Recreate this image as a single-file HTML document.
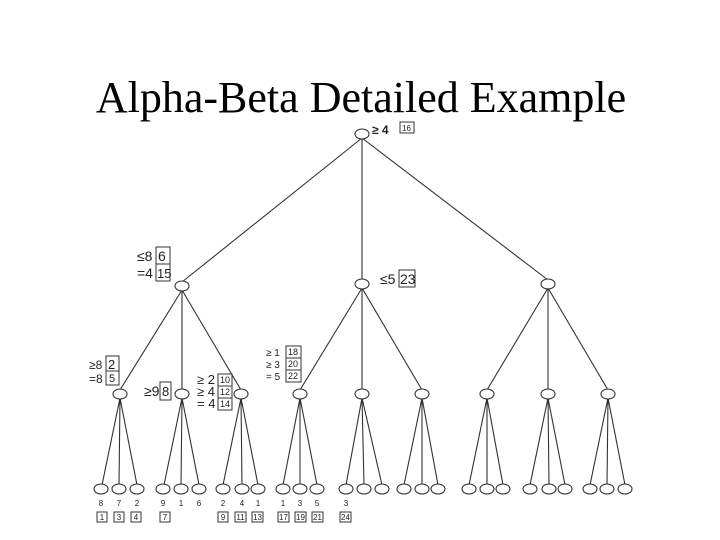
<!DOCTYPE html>
<html><head><meta charset="utf-8"><style>
body{margin:0;background:#fff;width:720px;height:540px;overflow:hidden}
svg{display:block}
.t{font-family:"Liberation Sans",sans-serif;fill:#222}
</style></head><body>
<svg width="720" height="540" viewBox="0 0 720 540">
<text x="361" y="112" text-anchor="middle" font-family="Liberation Serif,serif" font-size="44" fill="#000">Alpha-Beta Detailed Example</text>
<g stroke="#333" stroke-width="1.1" fill="none">
<line x1="362" y1="138" x2="182" y2="282"/><line x1="362" y1="138" x2="362" y2="280"/><line x1="362" y1="138" x2="548" y2="280"/>
<line x1="182" y1="290" x2="120" y2="390"/><line x1="182" y1="290" x2="182" y2="390"/><line x1="182" y1="290" x2="241" y2="390"/>
<line x1="362" y1="288" x2="300" y2="390"/><line x1="362" y1="288" x2="362" y2="390"/><line x1="362" y1="288" x2="422" y2="390"/>
<line x1="548" y1="288" x2="487" y2="390"/><line x1="548" y1="288" x2="548" y2="390"/><line x1="548" y1="288" x2="608" y2="390"/>
<path d="M120 398L102 485M120 398L119 485M120 398L137 485
M182 398L164 485M182 398L181 485M182 398L199 485
M241 398L223 485M241 398L242 485M241 398L258 485
M300 398L283 485M300 398L300 485M300 398L317 485
M362 398L346 485M362 398L364 485M362 398L382 485
M422 398L404 485M422 398L422 485M422 398L438 485
M487 398L469 485M487 398L487 485M487 398L503 485
M548 398L530 485M548 398L549 485M548 398L565 485
M608 398L590 485M608 398L607 485M608 398L625 485"/>
</g>
<g stroke="#333" stroke-width="1.1" fill="#fff">
<ellipse cx="362" cy="134" rx="7" ry="5"/>
<ellipse cx="182" cy="286" rx="7" ry="5"/><ellipse cx="362" cy="284" rx="7" ry="5"/><ellipse cx="548" cy="284" rx="7" ry="5"/>
<ellipse cx="120" cy="394" rx="7" ry="5"/><ellipse cx="182" cy="394" rx="7" ry="5"/><ellipse cx="241" cy="394" rx="7" ry="5"/>
<ellipse cx="300" cy="394" rx="7" ry="5"/><ellipse cx="362" cy="394" rx="7" ry="5"/><ellipse cx="422" cy="394" rx="7" ry="5"/>
<ellipse cx="487" cy="394" rx="7" ry="5"/><ellipse cx="548" cy="394" rx="7" ry="5"/><ellipse cx="608" cy="394" rx="7" ry="5"/>
<ellipse cx="101" cy="489" rx="7" ry="5"/><ellipse cx="119" cy="489" rx="7" ry="5"/><ellipse cx="137" cy="489" rx="7" ry="5"/>
<ellipse cx="163" cy="489" rx="7" ry="5"/><ellipse cx="181" cy="489" rx="7" ry="5"/><ellipse cx="199" cy="489" rx="7" ry="5"/>
<ellipse cx="223" cy="489" rx="7" ry="5"/><ellipse cx="242" cy="489" rx="7" ry="5"/><ellipse cx="258" cy="489" rx="7" ry="5"/>
<ellipse cx="283" cy="489" rx="7" ry="5"/><ellipse cx="300" cy="489" rx="7" ry="5"/><ellipse cx="317" cy="489" rx="7" ry="5"/>
<ellipse cx="346" cy="489" rx="7" ry="5"/><ellipse cx="364" cy="489" rx="7" ry="5"/><ellipse cx="382" cy="489" rx="7" ry="5"/>
<ellipse cx="404" cy="489" rx="7" ry="5"/><ellipse cx="422" cy="489" rx="7" ry="5"/><ellipse cx="438" cy="489" rx="7" ry="5"/>
<ellipse cx="469" cy="489" rx="7" ry="5"/><ellipse cx="487" cy="489" rx="7" ry="5"/><ellipse cx="503" cy="489" rx="7" ry="5"/>
<ellipse cx="530" cy="489" rx="7" ry="5"/><ellipse cx="549" cy="489" rx="7" ry="5"/><ellipse cx="565" cy="489" rx="7" ry="5"/>
<ellipse cx="590" cy="489" rx="7" ry="5"/><ellipse cx="607" cy="489" rx="7" ry="5"/><ellipse cx="625" cy="489" rx="7" ry="5"/>
</g>
<g stroke="#333" stroke-width="1" fill="none">
<rect x="400" y="122" width="14" height="11"/>
<rect x="156" y="247" width="14" height="17"/><rect x="156" y="264" width="14" height="17"/>
<rect x="399" y="270" width="16" height="17"/>
<rect x="106" y="356" width="13" height="15"/><rect x="106" y="371" width="13" height="14"/>
<rect x="160" y="382" width="11" height="18"/>
<rect x="218" y="374" width="14" height="12"/><rect x="218" y="386" width="14" height="12"/><rect x="218" y="398" width="14" height="12"/>
<rect x="286" y="346" width="15" height="12"/><rect x="286" y="358" width="15" height="12"/><rect x="286" y="370" width="15" height="12"/>
<rect x="97" y="512" width="10" height="10"/><rect x="114" y="512" width="10" height="10"/><rect x="131" y="512" width="10" height="10"/>
<rect x="160" y="512" width="10" height="10"/>
<rect x="218" y="512" width="10" height="10"/><rect x="235" y="512" width="11" height="10"/><rect x="252" y="512" width="11" height="10"/>
<rect x="278" y="512" width="11" height="10"/><rect x="295" y="512" width="11" height="10"/><rect x="312" y="512" width="11" height="10"/>
<rect x="340" y="512" width="11" height="10"/>
</g>
<g class="t">
<text x="372" y="134" font-size="12" font-weight="bold">≥ 4</text>
<text x="402" y="131" font-size="8">16</text>
<text x="137" y="261" font-size="14">≤8</text><text x="158" y="261" font-size="14">6</text>
<text x="137" y="278" font-size="14">=4</text><text x="157" y="278" font-size="13">15</text>
<text x="380" y="284" font-size="14">≤5</text><text x="400" y="284" font-size="14">23</text>
<text x="89" y="369" font-size="12">≥8</text><text x="108" y="369" font-size="13">2</text>
<text x="89" y="383" font-size="12">=8</text><text x="109" y="382" font-size="11">5</text>
<text x="144" y="396" font-size="14">≥9</text><text x="162" y="396" font-size="13">8</text>
<text x="197" y="384" font-size="13">≥ 2</text><text x="220" y="383" font-size="9">10</text>
<text x="197" y="396" font-size="13">≥ 4</text><text x="220" y="395" font-size="9">12</text>
<text x="197" y="408" font-size="13">= 4</text><text x="220" y="407" font-size="9">14</text>
<text x="266" y="356" font-size="10">≥ 1</text><text x="288" y="355" font-size="9">18</text>
<text x="266" y="368" font-size="10">≥ 3</text><text x="288" y="367" font-size="9">20</text>
<text x="266" y="380" font-size="10">= 5</text><text x="288" y="379" font-size="9">22</text>
</g>
<g class="t" font-size="8" text-anchor="middle">
<text x="101" y="506">8</text><text x="119" y="506">7</text><text x="137" y="506">2</text>
<text x="163" y="506">9</text><text x="181" y="506">1</text><text x="199" y="506">6</text>
<text x="223" y="506">2</text><text x="242" y="506">4</text><text x="258" y="506">1</text>
<text x="283" y="506">1</text><text x="300" y="506">3</text><text x="317" y="506">5</text>
<text x="346" y="506">3</text>
<text x="102" y="520">1</text><text x="119" y="520">3</text><text x="136" y="520">4</text>
<text x="165" y="520">7</text>
<text x="223" y="520">9</text><text x="240.5" y="520">11</text><text x="257.5" y="520">13</text>
<text x="283.5" y="520">17</text><text x="300.5" y="520">19</text><text x="317.5" y="520">21</text>
<text x="345.5" y="520">24</text>
</g>
</svg>
</body></html>
